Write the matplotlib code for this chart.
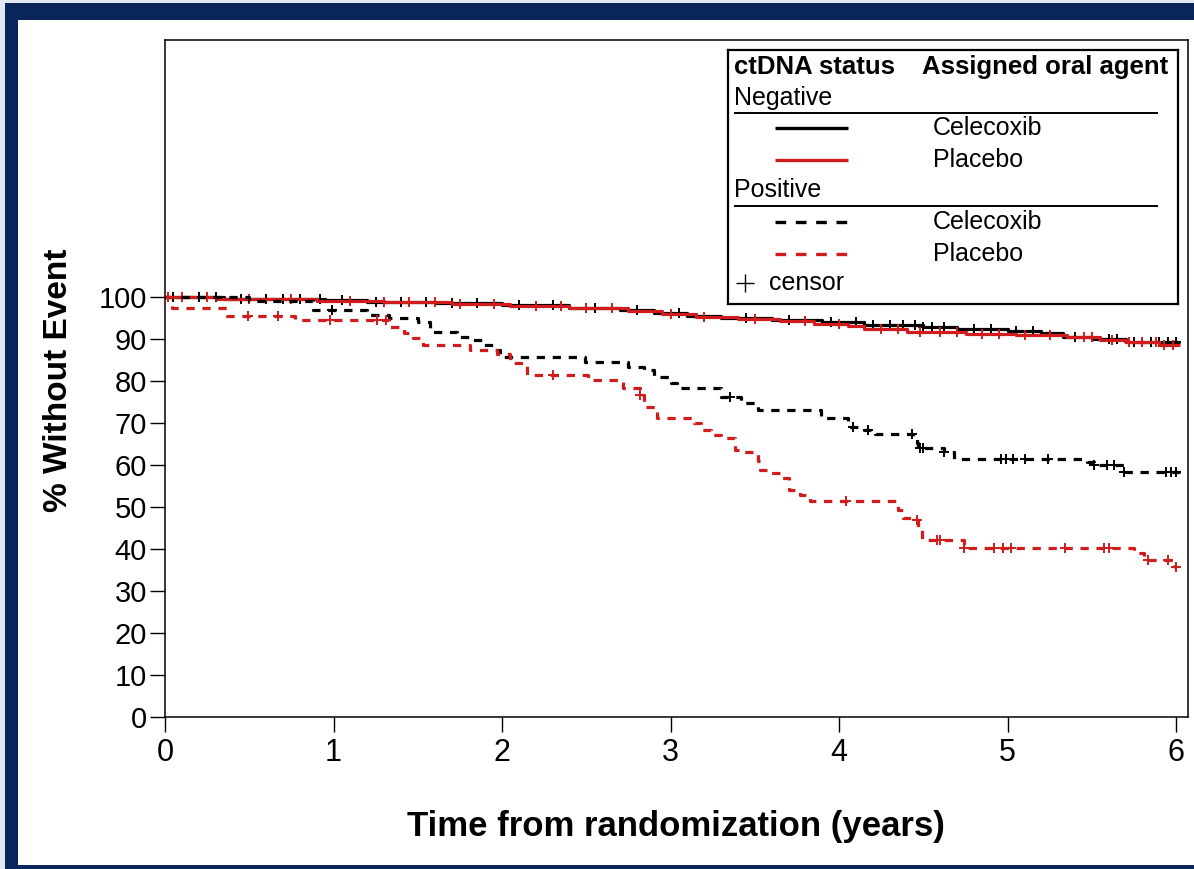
import numpy as np
import matplotlib
matplotlib.use("Agg")
import matplotlib.pyplot as plt
from matplotlib.patches import Rectangle

plt.rcParams["font.family"] = ["Liberation Sans", "DejaVu Sans"]

RED = "#d01c1c"
NAVY = "#0a2558"

# ── Kaplan-Meier step data (time in years, % without event) ───────────────
neg_cel_t = [0, 0.35, 0.95, 1.2, 1.6, 2.0, 2.4, 2.7, 2.9, 3.1, 3.3, 3.6, 3.9,
             4.15, 4.5, 4.7, 5.0, 5.2, 5.33, 5.5, 5.7, 6.02]
neg_cel_s = [100, 99.6, 99.2, 98.9, 98.5, 98.0, 97.5, 96.8, 96.1, 95.4, 95.0,
             94.5, 94.0, 93.4, 92.9, 92.3, 92.0, 91.5, 90.5, 90.0, 89.4, 89.4]
neg_cel_cens = [0.05, 0.2, 0.3, 0.45, 0.6, 0.7, 0.8, 0.92, 1.05, 1.25, 1.4,
                1.55, 1.7, 1.85, 2.1, 2.3, 2.55, 2.8, 3.05, 3.45, 3.7, 3.95,
                4.1, 4.2, 4.3, 4.38, 4.45, 4.5, 4.55, 4.62, 4.8, 4.9, 5.05,
                5.15, 5.4, 5.6, 5.65, 5.75, 5.8, 5.85, 5.9, 5.95, 6.0]

neg_pla_t = [0, 0.3, 0.9, 1.3, 1.7, 2.05, 2.4, 2.75, 2.95, 3.15, 3.4, 3.65,
             3.85, 4.05, 4.15, 4.4, 4.75, 5.05, 5.35, 5.55, 5.7, 5.9, 6.02]
neg_pla_s = [100, 99.6, 99.1, 98.8, 98.3, 97.9, 97.3, 96.6, 95.9, 95.3, 94.8,
             94.2, 93.6, 93.0, 92.3, 91.6, 91.3, 91.0, 90.6, 89.8, 89.2, 88.5,
             88.5]
neg_pla_cens = [0.1, 0.25, 0.5, 0.75, 1.1, 1.3, 1.45, 1.6, 1.75, 1.95, 2.2,
                2.35, 2.5, 2.65, 3.0, 3.2, 3.5, 3.8, 4.0, 4.25, 4.35, 4.48,
                4.6, 4.7, 4.85, 4.95, 5.1, 5.25, 5.45, 5.5, 5.62, 5.72, 5.8,
                5.88, 5.93, 5.98]

pos_cel_t = [0, 0.5, 0.88, 1.2, 1.33, 1.5, 1.57, 1.73, 1.81, 1.89, 1.95, 1.99,
             2.49, 2.75, 2.84, 2.90, 3.00, 3.04, 3.30, 3.42, 3.52, 3.89, 4.05,
             4.15, 4.21, 4.44, 4.46, 4.47, 4.62, 4.68, 5.47, 5.51, 5.69, 6.02]
pos_cel_s = [100, 99.0, 96.8, 95.7, 95.0, 94.0, 91.7, 90.6, 89.8, 88.6, 87.4,
             85.7, 84.5, 83.3, 82.6, 81.0, 79.5, 78.3, 76.2, 74.8, 73.1, 71.2,
             69.0, 68.3, 67.4, 66.4, 65.2, 64.0, 63.1, 61.4, 60.7, 60.0, 58.3,
             58.3]
pos_cel_cens = [0.99, 3.35, 4.08, 4.17, 4.43, 4.48, 4.50, 4.62, 4.96, 4.99,
                5.03, 5.10, 5.24, 5.51, 5.59, 5.63, 5.69, 5.94, 5.97, 6.0]

pos_pla_t = [0, 0.04, 0.37, 0.77, 1.33, 1.42, 1.47, 1.53, 1.81, 1.97, 2.05,
             2.15, 2.51, 2.72, 2.82, 2.84, 2.92, 3.14, 3.18, 3.24, 3.30, 3.38,
             3.43, 3.52, 3.53, 3.59, 3.65, 3.70, 3.77, 3.83, 4.35, 4.38, 4.45,
             4.47, 4.49, 4.74, 5.75, 5.81, 5.99, 6.0]
pos_pla_s = [100, 97.4, 95.6, 94.5, 92.8, 91.5, 90.2, 88.6, 87.4, 86.4, 84.3,
             81.4, 80.2, 78.3, 76.7, 73.8, 71.2, 70.0, 68.3, 67.1, 66.5, 63.6,
             63.0, 61.0, 58.8, 58.2, 57.0, 54.0, 52.9, 51.4, 49.3, 47.4, 46.9,
             45.0, 42.1, 40.2, 39.0, 37.4, 35.7, 35.7]
pos_pla_cens = [0.02, 0.49, 0.67, 0.98, 1.26, 1.31, 2.30, 2.82, 4.04, 4.46,
                4.58, 4.60, 4.74, 4.92, 4.97, 5.02, 5.34, 5.57, 5.60, 5.83,
                5.95, 6.0]

x_ticks = [0, 1, 2, 3, 4, 5, 6]
y_ticks = [0, 10, 20, 30, 40, 50, 60, 70, 80, 90, 100]

CURVES = [
    (neg_cel_t, neg_cel_s, neg_cel_cens, "black", "-"),
    (neg_pla_t, neg_pla_s, neg_pla_cens, RED, "-"),
    (pos_cel_t, pos_cel_s, pos_cel_cens, "black", "--"),
    (pos_pla_t, pos_pla_s, pos_pla_cens, RED, "--"),
]


def value_at(times, surv, t):
    idx = np.searchsorted(times, t, side="right") - 1
    return np.asarray(surv)[np.clip(idx, 0, len(surv) - 1)]


fig = plt.figure(figsize=(11.94, 8.69), dpi=100)
W, H = 1194, 869


def px_rect(x0, y0, x1, y1, color):
    fig.patches.append(Rectangle((x0 / W, 1 - y1 / H), (x1 - x0) / W,
                                 (y1 - y0) / H, transform=fig.transFigure,
                                 color=color, zorder=0, lw=0))


# ── Slide-style border ─────────────────────────────────────────────────────
px_rect(0, 0, 5, H, "#e3e9f1")
px_rect(0, 0, W, 3, "#e3e9f1")
px_rect(5, 3, 18, H, NAVY)
px_rect(5, 3, W, 20, NAVY)
px_rect(5, 865, W, H, NAVY)

ax = fig.add_axes([165 / W, 1 - 717 / H, (1188 - 165) / W, (717 - 40) / H])

for times, surv, cens, color, ls in CURVES:
    line, = ax.step(times, surv, where="post", color=color, lw=2.3,
                    solid_capstyle="butt")
    if ls == "--":
        line.set_dashes((2.6, 2.4))
    ax.plot(cens, value_at(times, surv, cens), linestyle="none", marker="+",
            color=color, markersize=7, markeredgewidth=1.4)

ax.set_xlim(0, 6.07)
ax.set_ylim(0, 161.2)
ax.set_xticks(x_ticks)
ax.set_yticks(y_ticks)
ax.tick_params(axis="y", labelsize=21, length=11, width=1, pad=2)
ax.tick_params(axis="x", labelsize=22, length=11, width=1, pad=4)
for s in ax.spines.values():
    s.set_linewidth(1.1)

ax.set_ylabel("% Without Event", fontsize=24, fontweight="bold")
ax.set_xlabel("Time from randomization (years)", fontsize=25,
              fontweight="bold")
ax.yaxis.set_label_coords(-0.089, 0.498)
ax.xaxis.set_label_coords(0.499, -0.137)

# ── Legend box (drawn in pixel coordinates of its own axes) ────────────────
lg = fig.add_axes([728 / W, 1 - 304 / H, (1178 - 728) / W, (304 - 50) / H])
lg.set_xlim(728, 1178)
lg.set_ylim(304, 50)
lg.set_xticks([])
lg.set_yticks([])
for s in lg.spines.values():
    s.set_linewidth(1.6)

FS = 18
lg.text(734, 67, "ctDNA status", fontsize=18.5, fontweight="bold",
        va="center", ha="left")
lg.text(1168, 67, "Assigned oral agent", fontsize=18.5, fontweight="bold",
        va="center", ha="right")
lg.text(734, 98, "Negative", fontsize=FS, va="center")
lg.plot([735, 1157], [113, 113], color="black", lw=1.4)
lg.text(734, 190, "Positive", fontsize=FS, va="center")
lg.plot([735, 1157], [206, 206], color="black", lw=1.4)

legend_rows = [(128, "black", "-", "Celecoxib"),
               (160, RED, "-", "Placebo"),
               (222, "black", "--", "Celecoxib"),
               (254, RED, "--", "Placebo")]
for y, color, ls, label in legend_rows:
    ln, = lg.plot([775, 856 if ls == "--" else 848], [y, y], color=color,
                  lw=2.4, solid_capstyle="butt")
    if ls == "--":
        ln.set_dashes((3.2, 2.9))
    lg.text(933, y, label, fontsize=FS, va="center")

lg.plot([745], [283], marker="+", color="black", markersize=13,
        markeredgewidth=1.0)
lg.text(769, 283, "censor", fontsize=FS, va="center")

fig.savefig("out.png", dpi=100)
